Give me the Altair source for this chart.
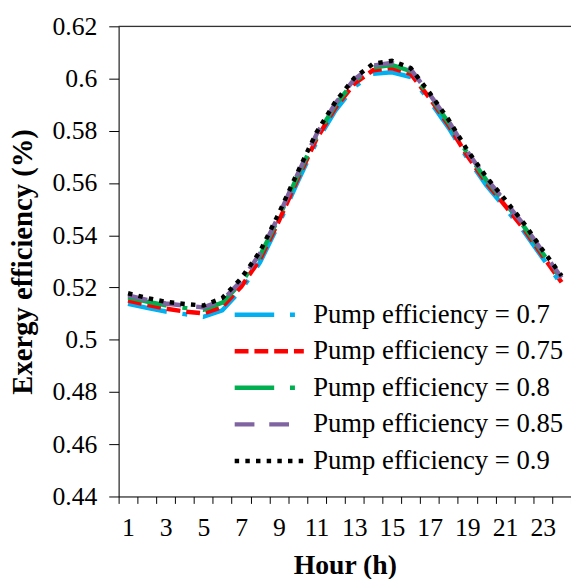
import altair as alt
import pandas as pd

hours = list(range(1, 25))
series_names = [
    "Pump efficiency = 0.7",
    "Pump efficiency = 0.75",
    "Pump efficiency = 0.8",
    "Pump efficiency = 0.85",
    "Pump efficiency = 0.9",
]
eff_070 = [0.5138, 0.5122, 0.5108, 0.5098, 0.5088, 0.5113, 0.5190, 0.5296, 0.5443, 0.5605,
           0.5758, 0.5877, 0.5968, 0.6018, 0.6024, 0.6006, 0.5915, 0.5812, 0.5695, 0.5592,
           0.5505, 0.5415, 0.5312, 0.5212]
eff_075 = [0.5150, 0.5134, 0.5119, 0.5108, 0.5101, 0.5126, 0.5203, 0.5308, 0.5454, 0.5616,
           0.5769, 0.5888, 0.5980, 0.6032, 0.6040, 0.6018, 0.5925, 0.5822, 0.5704, 0.5602,
           0.5514, 0.5424, 0.5321, 0.5220]
eff_080 = [0.5162, 0.5146, 0.5132, 0.5122, 0.5115, 0.5142, 0.5218, 0.5322, 0.5468, 0.5628,
           0.5780, 0.5899, 0.5990, 0.6043, 0.6052, 0.6028, 0.5934, 0.5832, 0.5714, 0.5612,
           0.5524, 0.5434, 0.5331, 0.5232]
eff_085 = [0.5170, 0.5153, 0.5139, 0.5131, 0.5124, 0.5150, 0.5225, 0.5330, 0.5475, 0.5635,
           0.5787, 0.5905, 0.5997, 0.6050, 0.6060, 0.6035, 0.5940, 0.5838, 0.5720, 0.5618,
           0.5530, 0.5440, 0.5337, 0.5238]
eff_090 = [0.5178, 0.5160, 0.5145, 0.5137, 0.5131, 0.5160, 0.5235, 0.5338, 0.5484, 0.5642,
           0.5794, 0.5911, 0.6002, 0.6057, 0.6068, 0.6040, 0.5945, 0.5843, 0.5726, 0.5624,
           0.5537, 0.5446, 0.5343, 0.5245]
y_ticks = [0.44, 0.46, 0.48, 0.50, 0.52, 0.54, 0.56, 0.58, 0.60, 0.62]

colors = ["#00B0F0", "#FF0000", "#00B050", "#8064A2", "#000000"]
dashes = [[40, 16, 5, 16], [14, 6], [40, 16, 5, 16], [20, 15], [4.5, 6.3]]

rows = []
for name, vals in zip(series_names, [eff_070, eff_075, eff_080, eff_085, eff_090]):
    for h, v in zip(hours, vals):
        rows.append({"hour": h, "value": v, "series": name})
df = pd.DataFrame(rows)

FONT = "Liberation Serif"

lines = alt.Chart(df).mark_line(strokeWidth=4.5).encode(
    x=alt.X("hour:O", title="Hour (h)",
            scale=alt.Scale(type="band", paddingInner=0, paddingOuter=0),
            axis=alt.Axis(tickBand="extent", labelAngle=0,
                          labelExpr="datum.value % 2 == 1 ? datum.label : ''",
                          tickSize=7, labelPadding=12, titlePadding=11,
                          domainColor="black", tickColor="black",
                          labelFont=FONT, labelFontSize=26, labelColor="black",
                          titleFont=FONT, titleFontSize=28, titleFontWeight="bold",
                          titleColor="black", grid=False)),
    y=alt.Y("value:Q", title="Exergy efficiency (%)",
            scale=alt.Scale(domain=[0.44, 0.62], nice=False, zero=False),
            axis=alt.Axis(values=y_ticks, format=".2~f", tickSize=10, labelPadding=12,
                          titlePadding=15, domainColor="black", tickColor="black",
                          labelFont=FONT, labelFontSize=26, labelColor="black",
                          titleFont=FONT, titleFontSize=29, titleFontWeight="bold",
                          titleColor="black", grid=False)),
    color=alt.Color("series:N", scale=alt.Scale(domain=series_names, range=colors),
                    legend=alt.Legend(title=None, orient="none", legendX=115, legendY=277,
                                      symbolType="stroke", symbolSize=4900,
                                      symbolStrokeWidth=4.5, clipHeight=30, rowPadding=7,
                                      labelFont=FONT, labelFontSize=27, labelColor="black",
                                      labelOffset=7, labelLimit=0, padding=0)),
    strokeDash=alt.StrokeDash("series:N", scale=alt.Scale(domain=series_names, range=dashes),
                              legend=None),
)

top = alt.Chart(pd.DataFrame({"y": [0.62]})).mark_rule(color="#333333", strokeWidth=1.2).encode(
    y=alt.Y("y:Q")
)

chart = alt.layer(lines, top).properties(
    width=458, height=476,
    padding={"left": 112, "top": 15, "right": 0, "bottom": 80},
    autosize=alt.AutoSizeParams(type="none"),
).configure_view(stroke=None).configure(background="white")

chart.save("out.html", embed_options={"renderer": "svg", "actions": False})
